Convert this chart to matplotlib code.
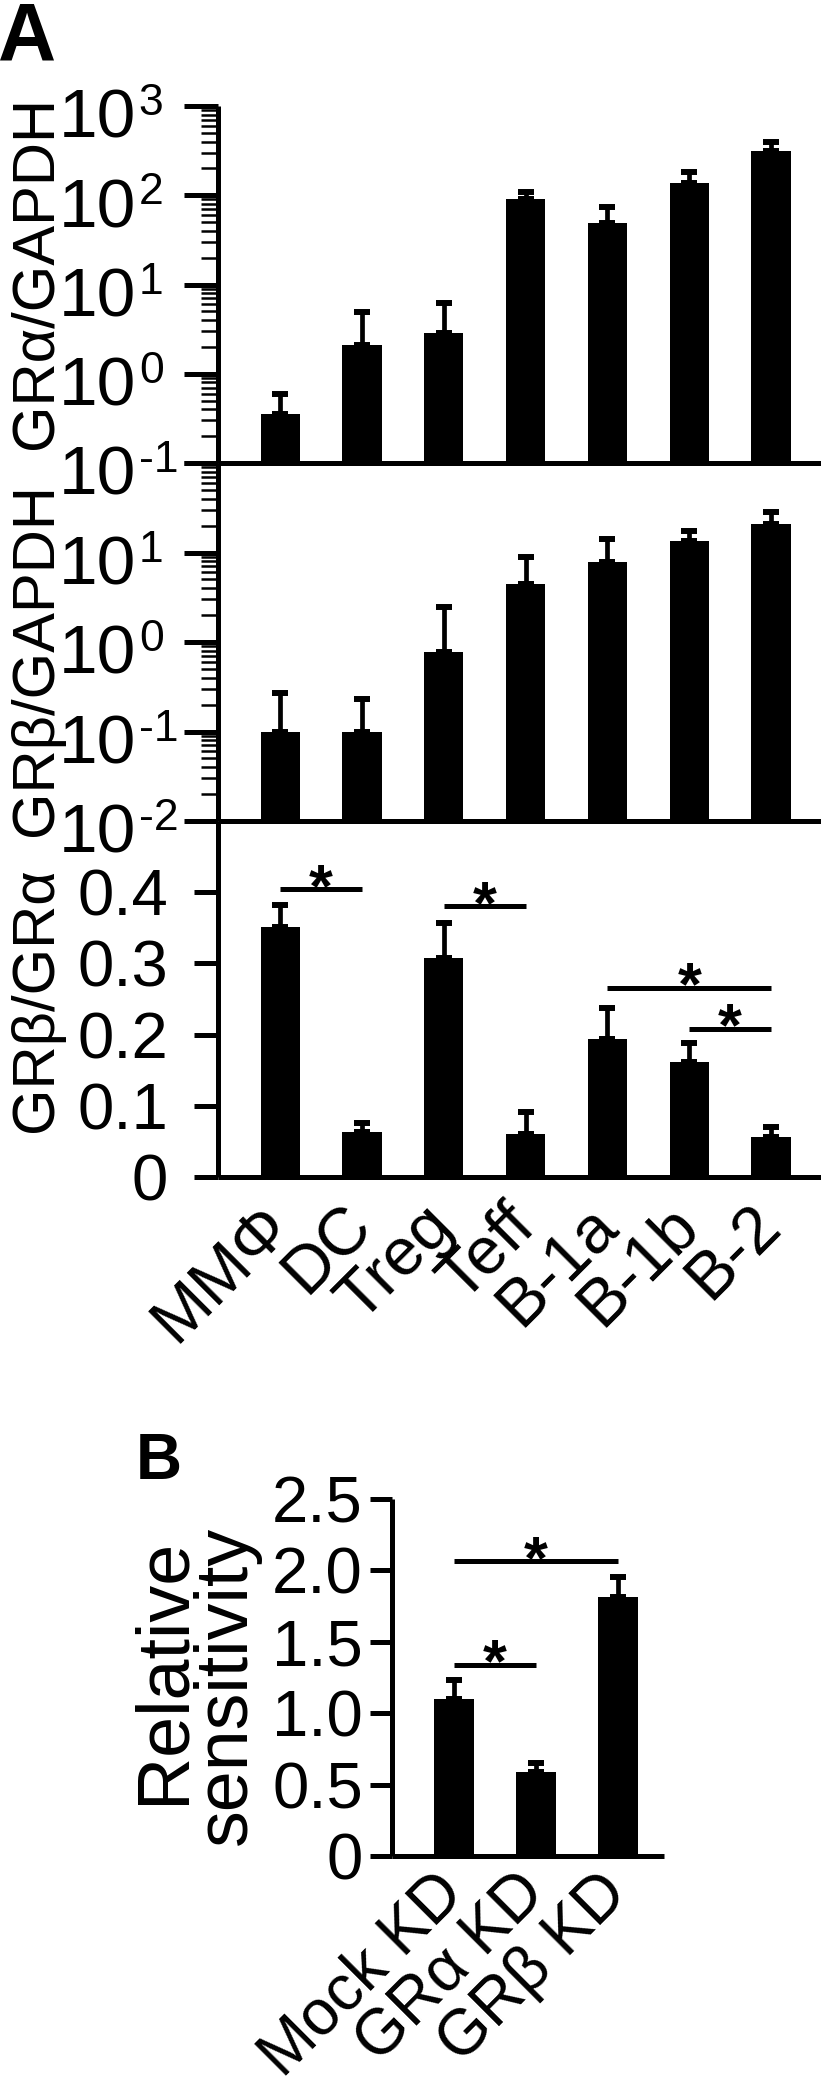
import matplotlib
matplotlib.use('Agg')
import matplotlib.pyplot as plt
import numpy as np
from matplotlib.ticker import LogLocator, NullFormatter

plt.rcParams['font.family'] = ['Liberation Sans', 'DejaVu Sans']

# ---------------- data ----------------
cells = ["MMΦ", "DC", "Treg", "Teff", "B-1a", "B-1b", "B-2"]
gra_mean = [0.35, 2.1, 2.85, 90, 48.6, 137, 317]
gra_err = [0.24, 2.87, 3.32, 20, 26, 44, 83]
grb_mean = [0.10, 0.10, 0.78, 4.45, 7.9, 13.5, 20.6]
grb_err = [0.167, 0.13, 1.70, 4.52, 6.3, 3.8, 7.5]
ratio_mean = [0.351, 0.063, 0.307, 0.061, 0.194, 0.162, 0.056]
ratio_err = [0.031, 0.013, 0.050, 0.030, 0.044, 0.026, 0.014]
ratio_sig_pairs = [(0, 1), (2, 3), (4, 6), (5, 6)]
ratio_sig_y = [0.404, 0.380, 0.266, 0.208]

kd = ["Mock KD", "GRα KD", "GRβ KD"]
sens_mean = [1.10, 0.59, 1.814]
sens_err = [0.13, 0.06, 0.143]
sens_sig_pairs = [(0, 2), (0, 1)]
sens_sig_y = [2.065, 1.34]

# ---------------- layout ----------------
W, H = 821, 2100
fig = plt.figure(figsize=(W / 100, H / 100), dpi=100)


def add_ax(left, top, right, bottom):
    return fig.add_axes([left / W, 1 - bottom / H, (right - left) / W, (bottom - top) / H])


LW = 3.6
BARW = 0.48


def style(ax):
    for s in ['top', 'right']:
        ax.spines[s].set_visible(False)
    for s in ['left', 'bottom']:
        ax.spines[s].set_linewidth(LW)
        ax.spines[s].set_capstyle('butt')
    ax.tick_params(axis='x', length=0)
    ax.set_facecolor('none')


def bars(ax, x, mean, err, bottom=0):
    ax.bar(x, np.array(mean) - bottom, bottom=bottom, width=BARW, color='black', zorder=2)
    ax.errorbar(x, mean, yerr=[np.zeros(len(mean)), err], fmt='none', ecolor='black',
                elinewidth=3.4, capsize=6, capthick=4.3, zorder=3)


def log_labels(ax, exps):
    for e in exps:
        ax.annotate("10", xy=(0, 10.0 ** e), xycoords=('axes fraction', 'data'),
                    xytext=(-59, -23), textcoords='offset points', ha='right', va='baseline',
                    fontsize=50, annotation_clip=False)
        ax.annotate(f"{e}", xy=(0, 10.0 ** e), xycoords=('axes fraction', 'data'),
                    xytext=(-57, -6.5), textcoords='offset points', ha='left', va='baseline',
                    fontsize=32, annotation_clip=False)


def log_axis(ax, lo, hi):
    ax.set_yscale('log')
    ax.set_ylim(lo, hi)
    ax.yaxis.set_major_locator(LogLocator(base=10, numticks=12))
    ax.yaxis.set_minor_locator(LogLocator(base=10, subs=np.arange(2, 10), numticks=40))
    ax.yaxis.set_major_formatter(NullFormatter())
    ax.yaxis.set_minor_formatter(NullFormatter())
    ax.tick_params(axis='y', which='major', length=24.5, width=LW)
    ax.tick_params(axis='y', which='minor', length=12, width=1.8)


def sig(ax, pairs, ys):
    for (a, b), y in zip(pairs, ys):
        ax.plot([a, b], [y, y], color='black', lw=LW, solid_capstyle='butt', zorder=4)
        ax.annotate('*', xy=((a + b) / 2, y), xycoords='data', xytext=(0, -12),
                    textcoords='offset points', ha='center', va='baseline', fontsize=44,
                    fontweight='bold')


def xlabels(ax, x, labels, size, pad):
    ax.set_xticks(x)
    ax.set_xticklabels(labels, rotation=45, ha='right', va='center',
                       rotation_mode='anchor', fontsize=size)
    ax.tick_params(axis='x', pad=pad)


xA = np.arange(len(cells))

# Panel A1
ax1 = add_ax(218, 106, 821, 463)
style(ax1)
log_axis(ax1, 0.1, 1000)
bars(ax1, xA, gra_mean, gra_err, bottom=0.1)
ax1.set_xlim(-0.76, 6.61)
ax1.set_xticks([])
log_labels(ax1, [3, 2, 1, 0, -1])

# Panel A2
ax2 = add_ax(218, 463, 821, 821)
style(ax2)
log_axis(ax2, 0.01, 100)
bars(ax2, xA, grb_mean, grb_err, bottom=0.01)
ax2.set_xlim(-0.76, 6.61)
ax2.set_xticks([])
log_labels(ax2, [1, 0, -1, -2])

# Panel A3
ax3 = add_ax(218, 821, 821, 1177)
style(ax3)
bars(ax3, xA, ratio_mean, ratio_err)
ax3.set_ylim(0, 0.5)
ax3.set_xlim(-0.76, 6.61)
ax3.set_yticks([0, 0.1, 0.2, 0.3, 0.4])
ax3.set_yticklabels(["0", "0.1", "0.2", "0.3", "0.4"])
ax3.tick_params(axis='y', length=17.3, width=LW, pad=18.7, labelsize=47)
xlabels(ax3, xA, cells, 48, 28)
sig(ax3, ratio_sig_pairs, ratio_sig_y)

# Panel B
axB = add_ax(392, 1499, 664, 1856)
style(axB)
xB = np.arange(len(kd))
bars(axB, xB, sens_mean, sens_err)
axB.set_ylim(0, 2.5)
axB.set_xlim(-0.756, 2.56)
axB.set_yticks([0, 0.5, 1.0, 1.5, 2.0, 2.5])
axB.set_yticklabels(["0", "0.5", "1.0", "1.5", "2.0", "2.5"])
axB.tick_params(axis='y', length=16, width=LW, pad=5, labelsize=47)
xlabels(axB, xB, kd, 46, 20)
sig(axB, sens_sig_pairs, sens_sig_y)

# axis labels
def ylab(text, xpx, ypx, size):
    fig.text(xpx / W, 1 - ypx / H, text, rotation=90, ha='center', va='baseline',
             rotation_mode='anchor', fontsize=size)

ylab("GRα/GAPDH", 52, 272, 43)
ylab("GRβ/GAPDH", 52, 660, 43)
ylab("GRβ/GRα", 52, 1000, 43)
ylab("Relative", 183, 1671, 53)
ylab("sensitivity", 246, 1685, 53)

# panel letters
fig.text(-2 / W, 1 - 60 / H, "A", fontsize=58, fontweight='bold', ha='left', va='baseline')
fig.text(136 / W, 1 - 1479 / H, "B", fontsize=46, fontweight='bold', ha='left', va='baseline')

fig.savefig('out.png', dpi=100)
